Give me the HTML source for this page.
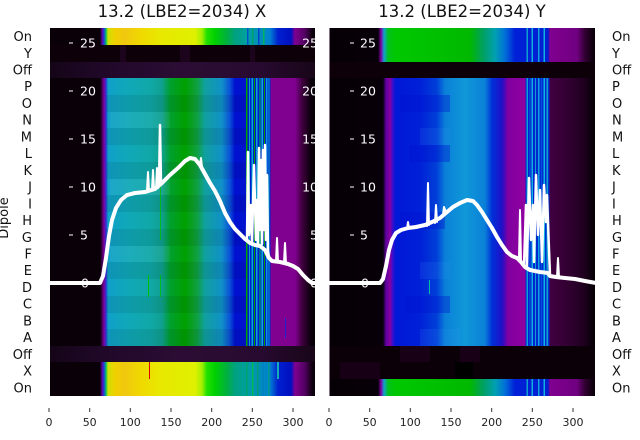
<!DOCTYPE html>
<html>
<head>
<meta charset="utf-8">
<style>
html,body{margin:0;padding:0;background:#fff;}
svg{display:block;}
text{font-family:"DejaVu Sans","Liberation Sans",sans-serif;}
</style>
</head>
<body>
<svg width="640" height="440" viewBox="0 0 640 440" xmlns="http://www.w3.org/2000/svg">
<defs>
<linearGradient id="LM" gradientUnits="userSpaceOnUse" x1="0" y1="0" x2="640" y2="0">
<stop offset="0.0781" stop-color="#0a0008"/>
<stop offset="0.1563" stop-color="#0a0008"/>
<stop offset="0.1594" stop-color="#400050"/>
<stop offset="0.1625" stop-color="#8000a0"/>
<stop offset="0.1656" stop-color="#3030d0"/>
<stop offset="0.1688" stop-color="#10a0c8"/>
<stop offset="0.2" stop-color="#10a8b8"/>
<stop offset="0.2344" stop-color="#10a8a8"/>
<stop offset="0.2531" stop-color="#10a090"/>
<stop offset="0.2656" stop-color="#00a030"/>
<stop offset="0.2891" stop-color="#00a000"/>
<stop offset="0.3078" stop-color="#10a040"/>
<stop offset="0.3203" stop-color="#10a0a0"/>
<stop offset="0.3469" stop-color="#1090c8"/>
<stop offset="0.3594" stop-color="#0a50d8"/>
<stop offset="0.3672" stop-color="#0010d0"/>
<stop offset="0.4219" stop-color="#0020d0"/>
<stop offset="0.4234" stop-color="#800090"/>
<stop offset="0.4609" stop-color="#800090"/>
<stop offset="0.4719" stop-color="#400040"/>
<stop offset="0.4844" stop-color="#100010"/>
<stop offset="0.4922" stop-color="#050005"/>
</linearGradient>
<linearGradient id="LY" gradientUnits="userSpaceOnUse" x1="0" y1="0" x2="640" y2="0">
<stop offset="0.0781" stop-color="#0a0008"/>
<stop offset="0.1563" stop-color="#0a0008"/>
<stop offset="0.1594" stop-color="#6000a0"/>
<stop offset="0.1625" stop-color="#2040e0"/>
<stop offset="0.1656" stop-color="#00c060"/>
<stop offset="0.1688" stop-color="#d0e000"/>
<stop offset="0.1797" stop-color="#f0d000"/>
<stop offset="0.1953" stop-color="#f0c810"/>
<stop offset="0.2188" stop-color="#f0d800"/>
<stop offset="0.25" stop-color="#e8e800"/>
<stop offset="0.3047" stop-color="#e0f000"/>
<stop offset="0.3156" stop-color="#a0f000"/>
<stop offset="0.3234" stop-color="#20e000"/>
<stop offset="0.3359" stop-color="#00d000"/>
<stop offset="0.3547" stop-color="#00b040"/>
<stop offset="0.3672" stop-color="#00a080"/>
<stop offset="0.3859" stop-color="#00a0a0"/>
<stop offset="0.4219" stop-color="#0080d0"/>
<stop offset="0.4344" stop-color="#0020d0"/>
<stop offset="0.4547" stop-color="#0010c0"/>
<stop offset="0.4609" stop-color="#800090"/>
<stop offset="0.4766" stop-color="#500060"/>
<stop offset="0.4875" stop-color="#100010"/>
<stop offset="0.4922" stop-color="#050005"/>
</linearGradient>
<linearGradient id="LO" gradientUnits="userSpaceOnUse" x1="0" y1="0" x2="640" y2="0">
<stop offset="0.0781" stop-color="#150518"/>
<stop offset="0.1563" stop-color="#200828"/>
<stop offset="0.2813" stop-color="#2c0c34"/>
<stop offset="0.4063" stop-color="#280a30"/>
<stop offset="0.4922" stop-color="#180618"/>
</linearGradient>
<linearGradient id="RM" gradientUnits="userSpaceOnUse" x1="0" y1="0" x2="640" y2="0">
<stop offset="0.5141" stop-color="#050005"/>
<stop offset="0.5984" stop-color="#080008"/>
<stop offset="0.6031" stop-color="#6000a0"/>
<stop offset="0.6094" stop-color="#8800a0"/>
<stop offset="0.6141" stop-color="#3010d0"/>
<stop offset="0.6188" stop-color="#0018d8"/>
<stop offset="0.6563" stop-color="#0020d8"/>
<stop offset="0.6828" stop-color="#0040d8"/>
<stop offset="0.6953" stop-color="#0a80d8"/>
<stop offset="0.7266" stop-color="#1098d8"/>
<stop offset="0.7578" stop-color="#0a80d8"/>
<stop offset="0.7688" stop-color="#0030d8"/>
<stop offset="0.7844" stop-color="#2010c8"/>
<stop offset="0.7938" stop-color="#8000a0"/>
<stop offset="0.8203" stop-color="#9000a0"/>
<stop offset="0.8219" stop-color="#0020d0"/>
<stop offset="0.8578" stop-color="#0030d0"/>
<stop offset="0.8594" stop-color="#400040"/>
<stop offset="0.8906" stop-color="#300030"/>
<stop offset="0.9109" stop-color="#200020"/>
<stop offset="0.9297" stop-color="#050005"/>
</linearGradient>
<linearGradient id="RG" gradientUnits="userSpaceOnUse" x1="0" y1="0" x2="640" y2="0">
<stop offset="0.5141" stop-color="#050005"/>
<stop offset="0.5906" stop-color="#080008"/>
<stop offset="0.5953" stop-color="#8000a0"/>
<stop offset="0.6" stop-color="#10a0d0"/>
<stop offset="0.6063" stop-color="#00c020"/>
<stop offset="0.6172" stop-color="#00c800"/>
<stop offset="0.7344" stop-color="#00b800"/>
<stop offset="0.7547" stop-color="#00a060"/>
<stop offset="0.7734" stop-color="#00a0b0"/>
<stop offset="0.7891" stop-color="#0070d8"/>
<stop offset="0.8047" stop-color="#0020d8"/>
<stop offset="0.8563" stop-color="#0020d0"/>
<stop offset="0.8594" stop-color="#800090"/>
<stop offset="0.9016" stop-color="#700080"/>
<stop offset="0.9141" stop-color="#300030"/>
<stop offset="0.9297" stop-color="#050005"/>
</linearGradient>
<clipPath id="clipL"><rect x="50" y="28" width="265" height="368"/></clipPath>
<clipPath id="clipR"><rect x="329" y="28" width="266" height="368"/></clipPath>
</defs>

<rect width="640" height="440" fill="#fff"/>

<!-- Titles -->
<text x="182" y="17" font-size="16.5" text-anchor="middle" fill="#111">13.2 (LBE2=2034) X</text>
<text x="462" y="17" font-size="16.5" text-anchor="middle" fill="#111">13.2 (LBE2=2034) Y</text>

<!-- ===== LEFT PANEL ===== -->
<g clip-path="url(#clipL)">
  <rect x="50" y="28" width="265" height="17" fill="url(#LY)"/>
  <rect x="50" y="45" width="265" height="17" fill="#0e0008"/>
  <rect x="50" y="62" width="265" height="16" fill="url(#LO)"/>
  <rect x="50" y="78" width="265" height="268" fill="url(#LM)"/>
  <rect x="50" y="346" width="265" height="16" fill="url(#LO)"/>
  <rect x="50" y="362" width="265" height="34" fill="url(#LY)"/>
  <!-- row variation -->
  <g fill="#000" opacity="0.07">
    <rect x="106" y="95" width="140" height="17"/>
    <rect x="106" y="128" width="140" height="17"/>
    <rect x="106" y="162" width="140" height="17"/>
    <rect x="106" y="195" width="140" height="17"/>
    <rect x="106" y="229" width="140" height="17"/>
    <rect x="106" y="262" width="140" height="17"/>
    <rect x="106" y="296" width="140" height="17"/>
    <rect x="106" y="329" width="140" height="17"/>
  </g>
  <g fill="#fff" opacity="0.05">
    <rect x="110" y="112" width="60" height="16"/>
    <rect x="110" y="179" width="60" height="16"/>
    <rect x="110" y="246" width="60" height="16"/>
  </g>
  <!-- dark row variations -->
  <g fill="#2a0a30" opacity="0.5">
    <rect x="120" y="45" width="6" height="17"/>
    <rect x="180" y="45" width="10" height="17"/>
    <rect x="250" y="45" width="5" height="17"/>
  </g>
  <!-- stripes main rows -->
  <g>
    <rect x="246" y="78" width="1.5" height="268" fill="#00a000"/>
    <rect x="249" y="78" width="1" height="268" fill="#10a0c0"/>
    <rect x="251.5" y="78" width="1.5" height="268" fill="#00b0d0"/>
    <rect x="254" y="78" width="1" height="268" fill="#00a000"/>
    <rect x="256" y="78" width="1.5" height="268" fill="#10a0d0"/>
    <rect x="259.5" y="78" width="1" height="268" fill="#00c040"/>
    <rect x="261.5" y="78" width="1.5" height="268" fill="#10b0d0"/>
    <rect x="264" y="78" width="1" height="268" fill="#00a000"/>
    <rect x="266" y="78" width="1.5" height="268" fill="#1090e0"/>
    <rect x="268.5" y="78" width="1" height="268" fill="#00a0c0"/>
  </g>
  <!-- stripes yellow rows -->
  <g opacity="0.8">
    <rect x="247" y="28" width="1.5" height="17" fill="#0040d0"/>
    <rect x="252" y="28" width="1.5" height="17" fill="#00a060"/>
    <rect x="258" y="28" width="1.5" height="17" fill="#0030d0"/>
    <rect x="263" y="28" width="1.5" height="17" fill="#00c040"/>
    <rect x="246" y="362" width="1.5" height="34" fill="#00a060"/>
    <rect x="252" y="362" width="1.5" height="34" fill="#00c040"/>
    <rect x="257" y="362" width="1.5" height="34" fill="#00a060"/>
    <rect x="262" y="362" width="1.5" height="34" fill="#0080c0"/>
    <rect x="268" y="362" width="1.5" height="34" fill="#00a080"/>
  </g>
  <rect x="277" y="362" width="2" height="17" fill="#10b0b0"/>
  <rect x="149" y="362" width="1" height="17" fill="#e00000"/>
  <rect x="148" y="275" width="1" height="22" fill="#00c000"/>
  <rect x="160" y="185" width="1" height="55" fill="#00c000" opacity="0.8"/>
  <rect x="160" y="275" width="1" height="22" fill="#00c000" opacity="0.8"/>
  <rect x="285" y="318" width="1" height="20" fill="#2020d0"/>

  <!-- tick labels inside left panel -->
  <g stroke="#fff" stroke-width="1">
    <line x1="69" y1="43" x2="73" y2="43"/>
    <line x1="69" y1="91" x2="73" y2="91"/>
    <line x1="69" y1="139" x2="73" y2="139"/>
    <line x1="69" y1="187" x2="73" y2="187"/>
    <line x1="69" y1="235" x2="73" y2="235"/>
  </g>
  <g fill="#fff" font-size="12.5">
    <text x="80" y="47.5">25</text>
    <text x="80" y="95.5">20</text>
    <text x="80" y="143.5">15</text>
    <text x="80" y="191.5">10</text>
    <text x="80" y="239.5">5</text>
    <text x="81" y="287.5">0</text>
  </g>
  <g fill="#fff" font-size="12.5" text-anchor="end">
    <text x="318" y="47.5">25</text>
    <text x="318" y="95.5">20</text>
    <text x="318" y="143.5">15</text>
    <text x="318" y="191.5">10</text>
    <text x="318" y="239.5">5</text>
    <text x="318" y="287.5">0</text>
  </g>
</g>
<!-- left curve -->
<g fill="none" stroke="#fff" stroke-linejoin="round" stroke-linecap="round">
  <polyline stroke-width="4" points="47,283 100,283 103,276 106,258 109,236 112,220 116,208 121,200 127,195 135,193 145,192 155,189 162,183 170,175 178,168 185,161 190,158 195,159 200,165 205,174 210,183 215,191 220,201 225,213 230,222 235,229 240,234 245,239 250,243 255,245 260,246 265,250 269,258 272,261 280,262 288,264 293,266 298,269 303,275 308,280 312,283 316,283"/>
  <polyline stroke-width="2" points="147,191 148,172 149,191"/>
  <polyline stroke-width="2" points="152,190 153,170 154,190"/>
  <polyline stroke-width="2" points="156,189 157,168 158,188"/>
  <polyline stroke-width="2.5" points="159,186 160,125 161,185"/>
  <polyline stroke-width="2" points="200,165 201,158 202,167"/>
  <polyline stroke-width="2.5" points="247,240 248,152 249,235 251,205 252,243 254,165 256,240 257,200 258,244 259,148 260,230 261,160 262,244 263,150 264,230 265,145 266,240 267,175 268,250 269,258"/>
  <polyline stroke-width="2" points="276,262 277,238 278,262"/>
  <polyline stroke-width="2" points="284,263 285,243 286,264"/>
</g>

<!-- ===== RIGHT PANEL ===== -->
<g clip-path="url(#clipR)">
  <rect x="329" y="28" width="266" height="34" fill="url(#RG)"/>
  <rect x="329" y="62" width="266" height="16" fill="#0e0008"/>
  <rect x="329" y="78" width="266" height="268" fill="url(#RM)"/>
  <rect x="329" y="346" width="266" height="33" fill="#0c0008"/>
  <rect x="329" y="379" width="266" height="17" fill="url(#RG)"/>
  <!-- row variation -->
  <g fill="#0010d0" opacity="0.35">
    <rect x="400" y="95" width="50" height="17"/>
    <rect x="410" y="145" width="40" height="17"/>
    <rect x="400" y="212" width="45" height="17"/>
    <rect x="405" y="296" width="45" height="17"/>
  </g>
  <g fill="#40a0ff" opacity="0.12">
    <rect x="420" y="128" width="30" height="17"/>
    <rect x="420" y="262" width="30" height="17"/>
    <rect x="420" y="329" width="40" height="17"/>
  </g>
  <g fill="#200020" opacity="0.6">
    <rect x="400" y="346" width="30" height="16"/>
    <rect x="460" y="346" width="20" height="16"/>
    <rect x="340" y="362" width="40" height="17"/>
  </g>
  <rect x="455" y="362" width="18" height="17" fill="#000"/>
  <!-- stripes -->
  <g>
    <rect x="526.5" y="28" width="1.5" height="34" fill="#10a0d0"/>
    <rect x="531.5" y="28" width="1.5" height="34" fill="#10b0e0"/>
    <rect x="538" y="28" width="1.5" height="34" fill="#10a0e0"/>
    <rect x="543.5" y="28" width="1.5" height="34" fill="#10b0e0"/>
    <rect x="526.5" y="78" width="1.5" height="268" fill="#10a0d0"/>
    <rect x="529.5" y="78" width="1" height="268" fill="#0060e0"/>
    <rect x="531.5" y="78" width="1.5" height="268" fill="#10b0e0"/>
    <rect x="535" y="78" width="1" height="268" fill="#10a0d0"/>
    <rect x="538" y="78" width="1.5" height="268" fill="#10a0e0"/>
    <rect x="541" y="78" width="1" height="268" fill="#0050e0"/>
    <rect x="543.5" y="78" width="1.5" height="268" fill="#10b0e0"/>
    <rect x="546.5" y="78" width="1.5" height="268" fill="#10a0d0"/>
    <rect x="526.5" y="379" width="1.5" height="17" fill="#10a0d0"/>
    <rect x="531.5" y="379" width="1.5" height="17" fill="#10b0e0"/>
    <rect x="538" y="379" width="1.5" height="17" fill="#10a0e0"/>
    <rect x="543.5" y="379" width="1.5" height="17" fill="#10b0e0"/>
  </g>
  <rect x="429" y="280" width="1" height="14" fill="#00c0a0"/>
  <rect x="329" y="28" width="1" height="368" fill="#c0a0c0" opacity="0.7"/>

  <g stroke="#fff" stroke-width="1">
    <line x1="350" y1="43" x2="354" y2="43"/>
    <line x1="350" y1="91" x2="354" y2="91"/>
    <line x1="350" y1="139" x2="354" y2="139"/>
    <line x1="350" y1="187" x2="354" y2="187"/>
    <line x1="350" y1="235" x2="354" y2="235"/>
  </g>
  <g fill="#fff" font-size="12.5">
    <text x="360" y="47.5">25</text>
    <text x="360" y="95.5">20</text>
    <text x="360" y="143.5">15</text>
    <text x="360" y="191.5">10</text>
    <text x="360" y="239.5">5</text>
    <text x="361" y="287.5">0</text>
  </g>
</g>
<!-- right curve -->
<g fill="none" stroke="#fff" stroke-linejoin="round" stroke-linecap="round">
  <polyline stroke-width="4" points="328,283 380,283 383,279 386,266 389,250 392,240 396,233 401,230 408,228 416,227 425,225 432,222 440,218 447,212 453,207 460,203 467,200 473,201 477,205 482,212 487,220 492,228 497,237 502,245 507,252 512,256 517,258 521,262 525,267 530,270 540,272 548,273 550,276 556,277 565,278 575,279 585,281 596,283"/>
  <polyline stroke-width="2" points="407,229 408,222 409,228"/>
  <polyline stroke-width="2" points="427,226 428,183 429,225"/>
  <polyline stroke-width="2" points="435,223 436,205 437,222"/>
  <polyline stroke-width="2" points="443,215 444,207 446,212"/>
  <polyline stroke-width="2" points="519,259 520,210 521,262"/>
  <polyline stroke-width="2.5" points="524,266 526,205 527,266 529,178 531,240 533,205 534,262 536,175 538,235 540,190 542,262 544,185 546,222 547,195 549,250 550,275"/>
  <polyline stroke-width="2" points="557,277 558,258 559,277"/>
</g>

<!-- Row labels left -->
<g fill="#111" font-size="13" text-anchor="end">
  <text x="32" y="41.1">On</text>
  <text x="32" y="57.8">Y</text>
  <text x="32" y="74.5">Off</text>
  <text x="32" y="91.2">P</text>
  <text x="32" y="108">O</text>
  <text x="32" y="124.7">N</text>
  <text x="32" y="141.4">M</text>
  <text x="32" y="158.2">L</text>
  <text x="32" y="174.9">K</text>
  <text x="32" y="191.6">J</text>
  <text x="32" y="208.3">I</text>
  <text x="32" y="225.1">H</text>
  <text x="32" y="241.8">G</text>
  <text x="32" y="258.5">F</text>
  <text x="32" y="275.2">E</text>
  <text x="32" y="292">D</text>
  <text x="32" y="308.7">C</text>
  <text x="32" y="325.4">B</text>
  <text x="32" y="342.2">A</text>
  <text x="32" y="358.9">Off</text>
  <text x="32" y="375.6">X</text>
  <text x="32" y="392.3">On</text>
</g>
<!-- Row labels right -->
<g fill="#111" font-size="13">
  <text x="612" y="41.1">On</text>
  <text x="612" y="57.8">Y</text>
  <text x="612" y="74.5">Off</text>
  <text x="612" y="91.2">P</text>
  <text x="612" y="108">O</text>
  <text x="612" y="124.7">N</text>
  <text x="612" y="141.4">M</text>
  <text x="612" y="158.2">L</text>
  <text x="612" y="174.9">K</text>
  <text x="612" y="191.6">J</text>
  <text x="612" y="208.3">I</text>
  <text x="612" y="225.1">H</text>
  <text x="612" y="241.8">G</text>
  <text x="612" y="258.5">F</text>
  <text x="612" y="275.2">E</text>
  <text x="612" y="292">D</text>
  <text x="612" y="308.7">C</text>
  <text x="612" y="325.4">B</text>
  <text x="612" y="342.2">A</text>
  <text x="612" y="358.9">Off</text>
  <text x="612" y="375.6">X</text>
  <text x="612" y="392.3">On</text>
</g>

<!-- Dipole label -->
<text transform="translate(8,218) rotate(-90)" font-size="13" text-anchor="middle" fill="#111">Dipole</text>

<!-- X ticks -->
<g stroke="#333" stroke-width="1">
  <line x1="49" y1="408" x2="49" y2="412"/>
  <line x1="89.7" y1="408" x2="89.7" y2="412"/>
  <line x1="130.3" y1="408" x2="130.3" y2="412"/>
  <line x1="171" y1="408" x2="171" y2="412"/>
  <line x1="211.7" y1="408" x2="211.7" y2="412"/>
  <line x1="252.3" y1="408" x2="252.3" y2="412"/>
  <line x1="293" y1="408" x2="293" y2="412"/>
  <line x1="329" y1="408" x2="329" y2="412"/>
  <line x1="369.7" y1="408" x2="369.7" y2="412"/>
  <line x1="410.3" y1="408" x2="410.3" y2="412"/>
  <line x1="451" y1="408" x2="451" y2="412"/>
  <line x1="491.7" y1="408" x2="491.7" y2="412"/>
  <line x1="532.3" y1="408" x2="532.3" y2="412"/>
  <line x1="573" y1="408" x2="573" y2="412"/>
</g>
<g fill="#222" font-size="11" text-anchor="middle">
  <text x="49" y="426">0</text>
  <text x="89.7" y="426">50</text>
  <text x="130.3" y="426">100</text>
  <text x="171" y="426">150</text>
  <text x="211.7" y="426">200</text>
  <text x="252.3" y="426">250</text>
  <text x="293" y="426">300</text>
  <text x="329" y="426">0</text>
  <text x="369.7" y="426">50</text>
  <text x="410.3" y="426">100</text>
  <text x="451" y="426">150</text>
  <text x="491.7" y="426">200</text>
  <text x="532.3" y="426">250</text>
  <text x="573" y="426">300</text>
</g>
</svg>
</body>
</html>
